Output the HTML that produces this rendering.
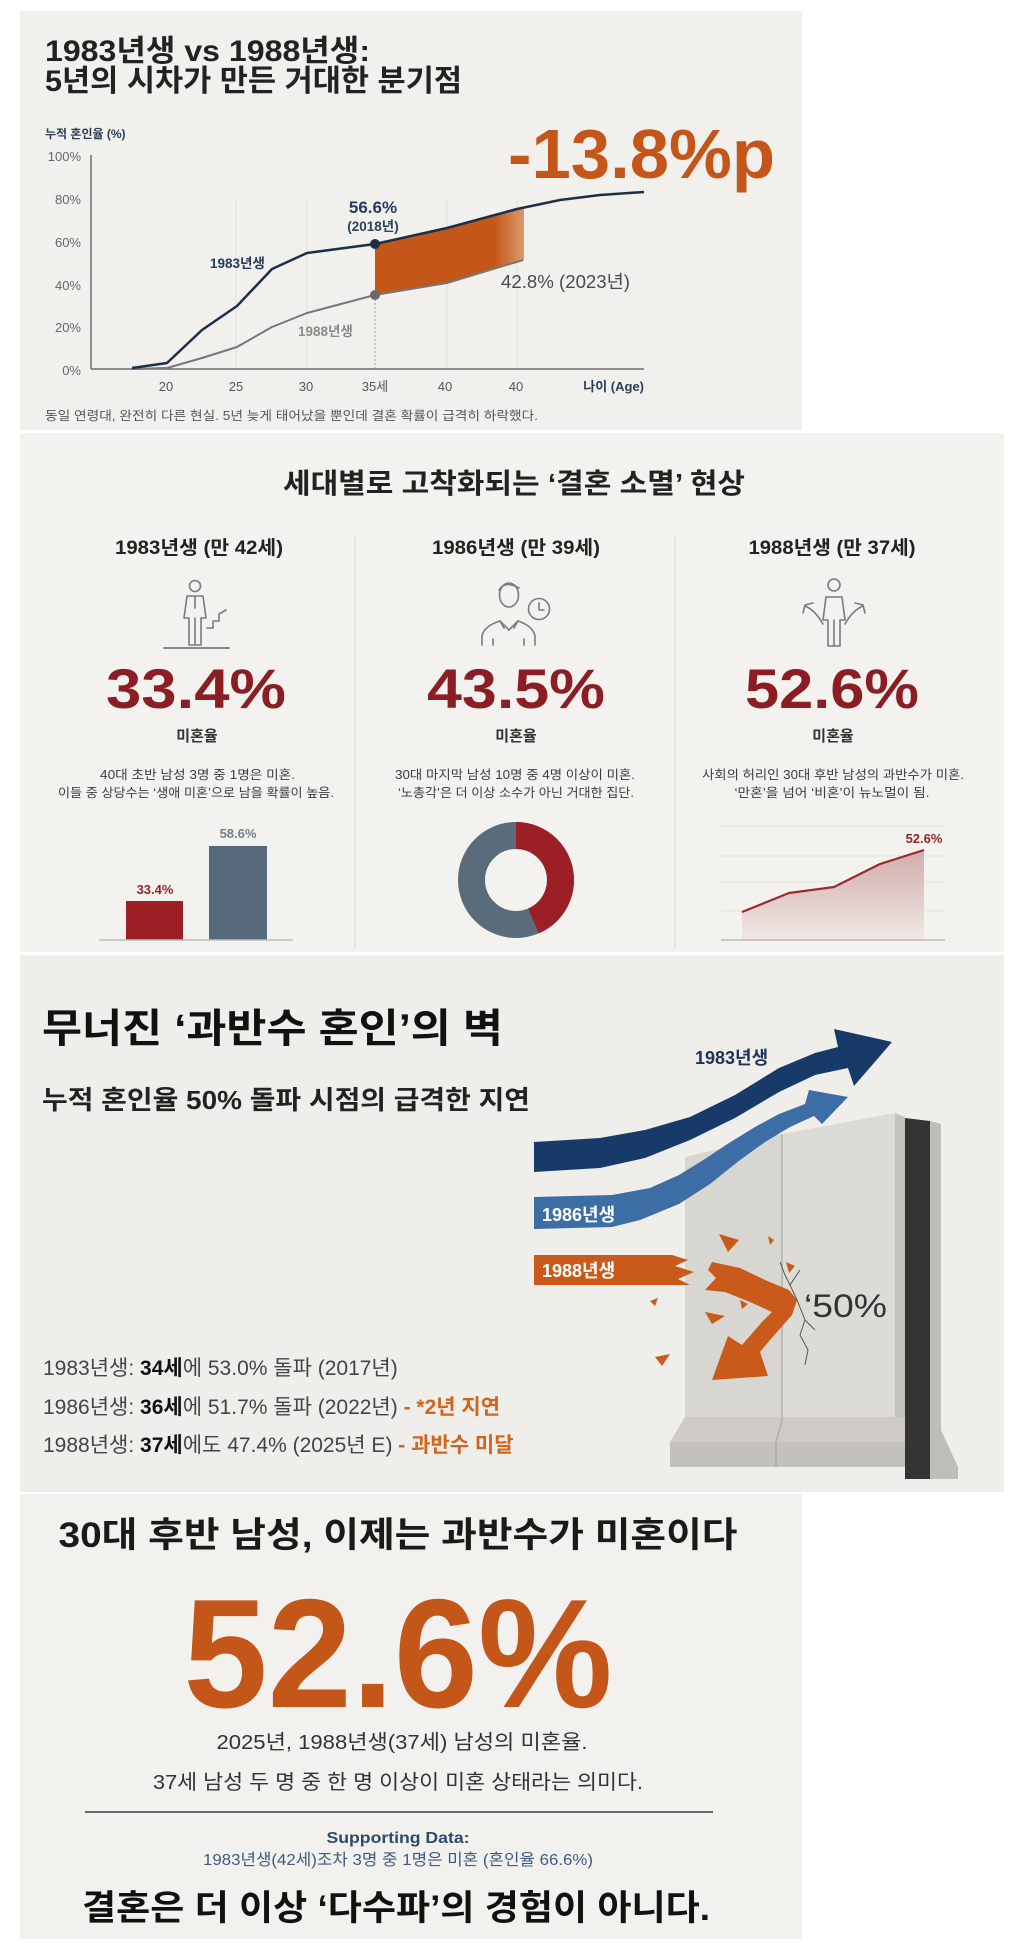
<!DOCTYPE html>
<html><head><meta charset="utf-8"><style>
html,body{margin:0;padding:0;background:#fff;}
svg{display:block;}
text{font-family:"Liberation Sans","Noto Sans CJK KR",sans-serif;}
</style></head><body>
<svg width="1024" height="1958" viewBox="0 0 1024 1958" xmlns="http://www.w3.org/2000/svg">
<defs>
<linearGradient id="og" x1="375" y1="0" x2="524" y2="0" gradientUnits="userSpaceOnUse">
<stop offset="0" stop-color="#c4561a"/><stop offset="0.8" stop-color="#c4561a"/><stop offset="1" stop-color="#dc9a6c"/>
</linearGradient>
<linearGradient id="pg" x1="0" y1="845" x2="0" y2="940" gradientUnits="userSpaceOnUse">
<stop offset="0" stop-color="#cfa9a7"/><stop offset="1" stop-color="#f0e8e5"/>
</linearGradient>
</defs>

<!-- panels -->
<rect x="20" y="11" width="782" height="419" fill="#f1f0ed"/>
<rect x="20" y="433" width="984" height="519" fill="#f3f2ef"/>
<rect x="20" y="955" width="984" height="537" fill="#efeeea"/>
<rect x="20" y="1494" width="782" height="445" fill="#f2f1ee"/>

<!-- ================= PANEL 1 ================= -->
<text x="45" y="61" font-size="30" font-weight="700" fill="#222" textLength="325" lengthAdjust="spacingAndGlyphs">1983년생 vs 1988년생:</text>
<text x="45" y="91" font-size="30" font-weight="700" fill="#222" textLength="417" lengthAdjust="spacingAndGlyphs">5년의 시차가 만든 거대한 분기점</text>
<text x="45" y="138" font-size="12" font-weight="700" fill="#2c3e55">누적 혼인율 (%)</text>

<g font-size="13" fill="#666" text-anchor="end">
<text x="81" y="161">100%</text>
<text x="81" y="204">80%</text>
<text x="81" y="247">60%</text>
<text x="81" y="290">40%</text>
<text x="81" y="332">20%</text>
<text x="81" y="375">0%</text>
</g>

<g stroke="#e2e0dc" stroke-width="1">
<line x1="236" y1="200" x2="236" y2="369"/>
<line x1="307" y1="200" x2="307" y2="369"/>
<line x1="447" y1="200" x2="447" y2="369"/>
<line x1="517" y1="200" x2="517" y2="369"/>
</g>
<line x1="375" y1="295" x2="375" y2="369" stroke="#9a9a9a" stroke-width="1" stroke-dasharray="2,2"/>
<line x1="91" y1="155" x2="91" y2="369" stroke="#6a6a6a" stroke-width="1.5"/>
<line x1="91" y1="369" x2="644" y2="369" stroke="#6a6a6a" stroke-width="1.5"/>

<g font-size="13" fill="#555" text-anchor="middle">
<text x="166" y="391">20</text>
<text x="236" y="391">25</text>
<text x="306" y="391">30</text>
<text x="375" y="391">35세</text>
<text x="445" y="391">40</text>
<text x="516" y="391">40</text>
</g>
<text x="644" y="391" font-size="13" font-weight="700" fill="#2c3e55" text-anchor="end">나이 (Age)</text>
<text x="45" y="420" font-size="12.5" fill="#555" textLength="493" lengthAdjust="spacingAndGlyphs">동일 연령대, 완전히 다른 현실. 5년 늦게 태어났을 뿐인데 결혼 확률이 급격히 하락했다.</text>

<polygon points="375,244 411,236 447,228 482,218 517,209 524,208 524,260 486,271 447,283 411,289 375,295" fill="url(#og)"/>
<polyline points="132,369 167,368 202,358 237,347 272,327 307,313 375,295 447,283 523,260" fill="none" stroke="#777" stroke-width="2" stroke-linejoin="round"/>
<polyline points="132,368 167,363 202,330 237,306 272,269 307,253 375,244 447,228 517,209 560,200 600,195 644,192" fill="none" stroke="#1b2f4b" stroke-width="2.5" stroke-linejoin="round"/>
<circle cx="375" cy="244" r="5" fill="#1b2f4b"/>
<circle cx="375" cy="295" r="5" fill="#6a6a6a"/>

<text x="373" y="213" font-size="17" font-weight="700" fill="#233d5e" text-anchor="middle">56.6%</text>
<text x="373" y="231" font-size="13.5" font-weight="700" fill="#2c4260" text-anchor="middle">(2018년)</text>
<text x="210" y="268" font-size="13.5" font-weight="700" fill="#233d5e">1983년생</text>
<text x="298" y="336" font-size="13.5" font-weight="700" fill="#8a8a8a">1988년생</text>
<text x="501" y="288" font-size="18" fill="#4a4a4a" textLength="129" lengthAdjust="spacingAndGlyphs">42.8% (2023년)</text>
<text x="508" y="178" font-size="70" font-weight="700" fill="#c4561a" textLength="267" lengthAdjust="spacingAndGlyphs">-13.8%p</text>

<!-- ================= PANEL 2 ================= -->
<text x="514" y="493" font-size="28" font-weight="700" fill="#222" text-anchor="middle" textLength="462" lengthAdjust="spacingAndGlyphs">세대별로 고착화되는 ‘결혼 소멸’ 현상</text>

<line x1="355" y1="536" x2="355" y2="948" stroke="#d6d4d0" stroke-width="1"/>
<line x1="675" y1="536" x2="675" y2="948" stroke="#d6d4d0" stroke-width="1"/>

<g font-size="19" font-weight="700" fill="#222" text-anchor="middle">
<text x="199" y="554" textLength="168" lengthAdjust="spacingAndGlyphs">1983년생 (만 42세)</text>
<text x="516" y="554" textLength="168" lengthAdjust="spacingAndGlyphs">1986년생 (만 39세)</text>
<text x="832" y="554" textLength="167" lengthAdjust="spacingAndGlyphs">1988년생 (만 37세)</text>
</g>

<!-- icons -->
<g fill="none" stroke="#7b7b7b" stroke-width="1.6" stroke-linejoin="round" stroke-linecap="round">
<circle cx="195" cy="586" r="5.5"/>
<path d="M187,596 L203,596 L206,618 L201,618 L201,645 L189,645 L189,618 L184,618 Z"/>
<path d="M195,596 L195,608 M195,618 L195,645"/>
<path d="M164,648 L229,648" stroke="#888" stroke-width="2"/>
<path d="M207,628 L213,628 L213,621 L219,621 L219,614 L226,610"/>
<ellipse cx="509" cy="595" rx="9.5" ry="12"/>
<path d="M499,590 Q505,580 519,588"/>
<path d="M482,645 L482,636 Q484,626 500,621 L509,630 L518,621 Q533,626 535,636 L535,645"/>
<path d="M500,621 L504,628 M518,621 L514,628 M493,639 L493,645 M524,639 L524,645"/>
<circle cx="539" cy="609" r="10.5"/>
<path d="M539,603 L539,610 L544,610"/>
<circle cx="834" cy="585" r="6"/>
<path d="M826,597 L842,597 L845,620 L840,620 L840,646 L828,646 L828,620 L823,620 Z"/>
<path d="M834,620 L834,646"/>
<path d="M823,624 Q815,610 805,606 M803,613 L805,605 L813,603"/>
<path d="M845,624 Q853,610 863,606 M865,613 L863,605 L855,603"/>
</g>

<g font-size="56" font-weight="700" fill="#8b1d24" text-anchor="middle">
<text x="196" y="708" textLength="180" lengthAdjust="spacingAndGlyphs">33.4%</text>
<text x="516" y="708" textLength="178" lengthAdjust="spacingAndGlyphs">43.5%</text>
<text x="832" y="708" textLength="174" lengthAdjust="spacingAndGlyphs">52.6%</text>
</g>
<g font-size="15" font-weight="700" fill="#333" text-anchor="middle">
<text x="197" y="741">미혼율</text>
<text x="516" y="741">미혼율</text>
<text x="833" y="741">미혼율</text>
</g>
<g font-size="12.5" fill="#3c3c3c" text-anchor="middle">
<text x="197.5" y="779" textLength="195" lengthAdjust="spacingAndGlyphs">40대 초반 남성 3명 중 1명은 미혼.</text>
<text x="196" y="797" textLength="276" lengthAdjust="spacingAndGlyphs">이들 중 상당수는 ‘생애 미혼’으로 남을 확률이 높음.</text>
<text x="515" y="779" textLength="240" lengthAdjust="spacingAndGlyphs">30대 마지막 남성 10명 중 4명 이상이 미혼.</text>
<text x="516" y="797" textLength="236" lengthAdjust="spacingAndGlyphs">‘노총각’은 더 이상 소수가 아닌 거대한 집단.</text>
<text x="833" y="779" textLength="262" lengthAdjust="spacingAndGlyphs">사회의 허리인 30대 후반 남성의 과반수가 미혼.</text>
<text x="832" y="797" textLength="195" lengthAdjust="spacingAndGlyphs">‘만혼’을 넘어 ‘비혼’이 뉴노멀이 됨.</text>
</g>

<!-- bar chart -->
<rect x="126" y="901" width="57" height="39" fill="#9b1f24"/>
<rect x="209" y="846" width="58" height="94" fill="#56697a"/>
<line x1="99" y1="940" x2="293" y2="940" stroke="#bdbbb7" stroke-width="1.5"/>
<text x="155" y="894" font-size="13" font-weight="700" fill="#8b2a2a" text-anchor="middle">33.4%</text>
<text x="238" y="838" font-size="13" font-weight="700" fill="#6f7f8e" text-anchor="middle">58.6%</text>

<!-- donut -->
<circle cx="516" cy="880" r="44.5" fill="none" stroke="#5a6b7b" stroke-width="27"/>
<circle cx="516" cy="880" r="44.5" fill="none" stroke="#9b1f24" stroke-width="27" stroke-dasharray="121.6 300" transform="rotate(-90 516 880)"/>

<!-- line chart -->
<g stroke="#e4e1dd" stroke-width="1">
<line x1="721" y1="826" x2="945" y2="826"/>
<line x1="721" y1="856" x2="945" y2="856"/>
<line x1="721" y1="882" x2="945" y2="882"/>
<line x1="721" y1="911" x2="945" y2="911"/>
</g>
<polygon points="742,912 789,893 834,887 880,864 924,850 924,940 742,940" fill="url(#pg)"/>
<polyline points="742,912 789,893 834,887 880,864 924,850" fill="none" stroke="#9b2a2e" stroke-width="2.2" stroke-linejoin="round"/>
<line x1="721" y1="940" x2="945" y2="940" stroke="#bdbbb7" stroke-width="1.5"/>
<text x="924" y="843" font-size="13" font-weight="700" fill="#8b2a2a" text-anchor="middle">52.6%</text>

<!-- ================= PANEL 3 ================= -->
<text x="42" y="1042" font-size="40" font-weight="700" fill="#111" textLength="461" lengthAdjust="spacingAndGlyphs">무너진 ‘과반수 혼인’의 벽</text>
<text x="42" y="1109" font-size="26" font-weight="700" fill="#222" textLength="488" lengthAdjust="spacingAndGlyphs">누적 혼인율 50% 돌파 시점의 급격한 지연</text>

<g font-size="21" fill="#444">
<text x="43" y="1375">1983년생: <tspan font-weight="700" fill="#111">34세</tspan>에 53.0% 돌파 (2017년)</text>
<text x="43" y="1414">1986년생: <tspan font-weight="700" fill="#111">36세</tspan>에 51.7% 돌파 (2022년) <tspan fill="#d0651e" font-weight="700">- *2년 지연</tspan></text>
<text x="43" y="1452">1988년생: <tspan font-weight="700" fill="#111">37세</tspan>에도 47.4% (2025년 E) <tspan fill="#d0651e" font-weight="700">- 과반수 미달</tspan></text>
</g>

<!-- wall -->
<polygon points="685,1157 782,1134 782,1417 685,1417" fill="#d8d6d1"/>
<polygon points="782,1134 895,1113 895,1417 782,1417" fill="#dddbd6"/>
<polygon points="895,1113 905,1117 905,1442 895,1417" fill="#c4c2bd"/>
<polygon points="905,1118 930,1121 930,1479 905,1479" fill="#343434"/>
<polygon points="930,1121 941,1124 941,1430 958,1467 958,1479 930,1479" fill="#bfbdb8"/>
<polygon points="685,1417 905,1417 905,1442 670,1442" fill="#cecbc6"/>
<polygon points="670,1442 905,1442 905,1467 670,1467" fill="#c3c1bc"/>
<line x1="782" y1="1134" x2="782" y2="1420" stroke="#a9a7a2" stroke-width="1.2"/>
<path d="M782,1420 L776,1442 L776,1467" fill="none" stroke="#a9a7a2" stroke-width="1.2"/>

<!-- arrows -->
<polygon points="534,1142 600,1138 645,1130 690,1117 735,1095 779,1068 815,1053 838,1047 834,1029 892,1042 854,1086 848,1068 815,1075 779,1092 735,1118 690,1140 645,1158 600,1168 534,1172" fill="#173a68"/>
<polygon points="534,1197 612,1195 650,1188 679,1175 705,1159 729,1143 755,1127 779,1114 805,1104 809,1090 848,1097 822,1124 814,1116 790,1127 765,1142 740,1160 710,1184 679,1204 640,1220 612,1227 534,1229" fill="#3d6da5"/>
<polygon points="534,1255 672,1255 688,1260 675,1266 694,1272 678,1279 690,1285 534,1285" fill="#c95a1c"/>
<polygon points="712,1262 740,1268 765,1280 789,1290 797,1300 792,1315 770,1340 760,1352 768,1376 712,1380 728,1336 742,1345 762,1322 772,1312 750,1302 725,1292 705,1290 716,1278 708,1270" fill="#c95a1c"/>
<g fill="#c95a1c">
<polygon points="719,1234 739,1240 728,1252"/>
<polygon points="768,1236 774,1240 770,1245"/>
<polygon points="786,1262 795,1266 789,1273"/>
<polygon points="650,1301 658,1298 655,1306"/>
<polygon points="705,1312 725,1316 712,1324"/>
<polygon points="655,1357 670,1354 662,1366"/>
<polygon points="740,1300 748,1304 742,1309"/>
</g>
<path d="M797,1300 L790,1285 L785,1275 L780,1262 M790,1285 L800,1270 M797,1300 L805,1320 L800,1335 L808,1350 L805,1365 M805,1320 L815,1330" fill="none" stroke="#555" stroke-width="1"/>

<text x="695" y="1064" font-size="18" font-weight="700" fill="#1d3557">1983년생</text>
<text x="542" y="1221" font-size="18" font-weight="700" fill="#ffffff">1986년생</text>
<text x="542" y="1277" font-size="18" font-weight="700" fill="#ffffff">1988년생</text>
<text x="804" y="1317" font-size="32" fill="#333" textLength="83" lengthAdjust="spacingAndGlyphs">‘50%</text>

<!-- ================= PANEL 4 ================= -->
<text x="398" y="1547" font-size="35" font-weight="700" fill="#1a1a1a" text-anchor="middle" textLength="679" lengthAdjust="spacingAndGlyphs">30대 후반 남성, 이제는 과반수가 미혼이다</text>
<text x="398" y="1707" font-size="155" font-weight="700" fill="#c4561a" text-anchor="middle" textLength="429" lengthAdjust="spacingAndGlyphs">52.6%</text>
<text x="402" y="1749" font-size="20.5" fill="#333" text-anchor="middle" textLength="371" lengthAdjust="spacingAndGlyphs">2025년, 1988년생(37세) 남성의 미혼율.</text>
<text x="398" y="1789" font-size="20.5" fill="#333" text-anchor="middle" textLength="490" lengthAdjust="spacingAndGlyphs">37세 남성 두 명 중 한 명 이상이 미혼 상태라는 의미다.</text>
<line x1="85" y1="1812" x2="713" y2="1812" stroke="#5f6d7a" stroke-width="2"/>
<text x="398" y="1843" font-size="16" font-weight="700" fill="#2d4a6b" text-anchor="middle" textLength="143" lengthAdjust="spacingAndGlyphs">Supporting Data:</text>
<text x="398" y="1865" font-size="16" fill="#3e5b82" text-anchor="middle" textLength="390" lengthAdjust="spacingAndGlyphs">1983년생(42세)조차 3명 중 1명은 미혼 (혼인율 66.6%)</text>
<text x="396" y="1920" font-size="35" font-weight="700" fill="#111" text-anchor="middle" textLength="628" lengthAdjust="spacingAndGlyphs">결혼은 더 이상 ‘다수파’의 경험이 아니다.</text>
</svg>
</body></html>
